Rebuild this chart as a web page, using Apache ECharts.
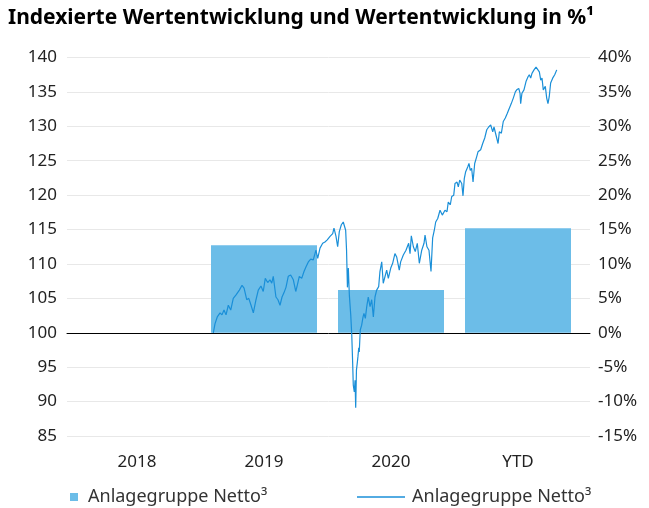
<!DOCTYPE html>
<html lang="de">
<head>
    <meta charset="UTF-8">
    <title>Wertentwicklung</title>
    <script src="https://cdn.jsdelivr.net/npm/echarts@6/dist/echarts.min.js"></script>
    <style>
        html, body { margin: 0; padding: 0; background: #fff; }
        #main { width: 649px; height: 508px; }
    </style>
</head>
<body>
    <div id="main"></div>
    <script>
        // Kategorien und Jahresbalken (Wertentwicklung in %)
        var categories = ['2018', '2019', '2020', 'YTD'];
        var barValues = ['-', 12.7, 6.2, 15.2];

        // indexierte Linie: x in Kategorie-Einheiten (0..4), y Indexwert
        var lineX = [1.101, 1.114, 1.132, 1.154, 1.169, 1.185, 1.201, 1.219, 1.238, 1.258,
            1.280, 1.306, 1.327, 1.343, 1.364, 1.380, 1.398, 1.416, 1.437, 1.455,
            1.476, 1.494, 1.510, 1.529, 1.547, 1.561, 1.573, 1.594, 1.610, 1.626,
            1.642, 1.657, 1.673, 1.691, 1.710, 1.731, 1.750, 1.762, 1.778, 1.797,
            1.815, 1.831, 1.849, 1.868, 1.888, 1.909, 1.923, 1.941, 1.962, 1.980,
            1.998, 2.020, 2.041, 2.051, 2.067, 2.080, 2.093, 2.109, 2.124, 2.132,
            2.143, 2.150, 2.157, 2.164, 2.172, 2.183, 2.191, 2.198, 2.203, 2.211,
            2.217, 2.222, 2.228, 2.235, 2.240, 2.246, 2.250, 2.258, 2.269, 2.280,
            2.287, 2.298, 2.309, 2.321, 2.335, 2.348, 2.361, 2.374, 2.387, 2.403,
            2.413, 2.427, 2.439, 2.453, 2.466, 2.479, 2.498, 2.513, 2.531, 2.545,
            2.565, 2.576, 2.597, 2.618, 2.639, 2.650, 2.660, 2.676, 2.691, 2.707,
            2.723, 2.742, 2.760, 2.768, 2.783, 2.799, 2.815, 2.828, 2.841, 2.852,
            2.868, 2.886, 2.904, 2.925, 2.941, 2.951, 2.967, 2.978, 2.994, 3.004,
            3.020, 3.030, 3.041, 3.057, 3.067, 3.077, 3.088, 3.104, 3.114, 3.124,
            3.135, 3.146, 3.159, 3.175, 3.185, 3.206, 3.222, 3.238, 3.254, 3.269,
            3.285, 3.301, 3.311, 3.327, 3.343, 3.353, 3.369, 3.384, 3.400, 3.416,
            3.431, 3.447, 3.463, 3.479, 3.490, 3.506, 3.516, 3.521, 3.531, 3.547,
            3.563, 3.579, 3.589, 3.600, 3.610, 3.626, 3.642, 3.657, 3.668, 3.679,
            3.689, 3.699, 3.715, 3.726, 3.736, 3.746, 3.757, 3.773, 3.789, 3.805];
        var lineValues = [100.0, 101.3, 102.3, 102.9, 102.6, 103.3, 102.6, 104.0, 103.3, 105.0,
            105.5, 106.2, 106.9, 106.5, 104.8, 105.0, 104.0, 102.9, 104.8, 106.2,
            106.8, 106.0, 107.9, 107.3, 107.7, 107.2, 108.2, 105.2, 104.8, 104.0,
            105.2, 105.8, 106.6, 108.2, 108.4, 107.7, 106.0, 106.9, 108.2, 107.9,
            108.9, 109.6, 110.3, 110.7, 110.6, 112.0, 110.8, 112.3, 113.0, 113.2,
            113.5, 114.0, 114.4, 115.2, 114.0, 112.5, 114.7, 115.7, 116.1, 116.2,
            114.9, 112.0, 106.6, 109.4, 105.5, 102.6, 99.7, 95.7, 92.4, 91.4,
            93.1, 89.1, 94.6, 95.7, 96.6, 97.8, 97.2, 100.4, 101.1, 102.3,
            102.8, 102.1, 103.8, 105.2, 103.8, 104.8, 102.3, 105.2, 106.2, 106.7,
            108.9, 110.3, 107.2, 107.4, 109.1, 107.9, 109.4, 110.1, 111.5, 111.0,
            109.1, 110.3, 111.3, 112.0, 113.0, 111.5, 114.1, 112.5, 111.8, 113.0,
            110.1, 112.0, 113.0, 114.2, 112.5, 112.0, 108.9, 113.8, 114.9, 116.1,
            116.6, 117.8, 117.1, 117.8, 117.6, 119.0, 118.6, 119.8, 120.0, 121.7,
            121.9, 121.2, 122.2, 121.7, 119.9, 122.4, 123.4, 124.1, 124.6, 123.6,
            123.9, 121.9, 124.6, 125.6, 126.3, 126.6, 127.5, 128.3, 129.5, 129.9,
            130.2, 129.2, 129.9, 128.7, 127.5, 129.2, 129.0, 130.7, 131.2, 131.9,
            132.6, 133.3, 134.1, 135.0, 135.3, 135.5, 134.8, 133.3, 134.8, 135.3,
            136.5, 137.2, 137.5, 137.0, 137.7, 138.2, 138.6, 138.7, 137.9, 136.7,
            137.0, 135.3, 135.8, 134.1, 133.3, 134.3, 136.3, 137.0, 137.5, 138.2];

        var seriesLabel = 'Anlagegruppe Netto³';
        var barColor = '#6CBDE8';
        var lineColor = '#1A8FD8';
        var font = 'Noto Sans';

        var lineData = [];
        for (var i = 0; i < lineX.length; i++) {
            lineData.push([lineX[i], lineValues[i]]);
        }

        var myChart = echarts.init(document.getElementById('main'));
        var option = {
            backgroundColor: '#fff',
            animation: false,
            title: {
                text: 'Indexierte Wertentwicklung und Wertentwicklung in %¹',
                left: 3,
                top: 3,
                textStyle: { fontFamily: font, fontWeight: 'bold', fontSize: 21, color: '#000' }
            },
            legend: [{
                data: ['bar'],
                left: 65,
                top: 483,
                icon: 'rect',
                itemWidth: 8,
                itemHeight: 8,
                formatter: function () { return seriesLabel; },
                textStyle: { fontFamily: font, fontSize: 18, color: '#333', padding: [0, 0, 0, 5] }
            }, {
                data: ['line'],
                left: 352,
                top: 483,
                icon: 'rect',
                itemWidth: 48,
                itemHeight: 1.5,
                formatter: function () { return seriesLabel; },
                textStyle: { fontFamily: font, fontSize: 18, color: '#333', padding: [0, 0, 0, 2] }
            }],
            // grid 0: Raster + Achsenbeschriftung, grid 1: Daten
            grid: [
                { left: 67, right: 59, top: 57.5, bottom: 72 },
                { left: 73.5, right: 67.5, top: 57.5, bottom: 72 }
            ],
            xAxis: [{
                type: 'category',
                gridIndex: 1,
                data: categories,
                axisLine: { show: false },
                axisTick: { show: false },
                axisLabel: { fontFamily: font, fontSize: 17, color: '#222', margin: 18 }
            }, {
                type: 'value',
                gridIndex: 1,
                min: 0,
                max: 4,
                show: false
            }, {
                type: 'value',
                gridIndex: 0,
                min: 0,
                max: 1,
                axisLine: { show: true, onZero: true, onZeroAxisIndex: 1, lineStyle: { color: '#000', width: 1 } },
                axisTick: { show: false },
                axisLabel: { show: false },
                splitLine: { show: false }
            }],
            yAxis: [{
                type: 'value',
                gridIndex: 0,
                position: 'left',
                min: 85,
                max: 140,
                interval: 5,
                axisLine: { show: false },
                axisTick: { show: false },
                axisLabel: { fontFamily: font, fontSize: 17, color: '#222', margin: 10 },
                splitLine: { lineStyle: { color: '#e8e8e8', width: 1 } }
            }, {
                type: 'value',
                gridIndex: 0,
                position: 'right',
                min: -15,
                max: 40,
                interval: 5,
                axisLine: { show: false },
                axisTick: { show: false },
                axisLabel: { fontFamily: font, fontSize: 17, color: '#222', margin: 8, formatter: '{value}%' },
                splitLine: { show: false }
            }, {
                type: 'value',
                gridIndex: 1,
                min: 85,
                max: 140,
                show: false
            }, {
                type: 'value',
                gridIndex: 1,
                min: -15,
                max: 40,
                show: false
            }],
            series: [{
                name: 'bar',
                type: 'bar',
                xAxisIndex: 0,
                yAxisIndex: 3,
                barWidth: 106,
                itemStyle: { color: barColor },
                data: barValues
            }, {
                name: 'line',
                type: 'line',
                xAxisIndex: 1,
                yAxisIndex: 2,
                showSymbol: false,
                symbol: 'none',
                z: 5,
                itemStyle: { color: lineColor },
                lineStyle: { color: lineColor, width: 1.2 },
                data: lineData
            }]
        };
        myChart.setOption(option);
    </script>
</body>
</html>
